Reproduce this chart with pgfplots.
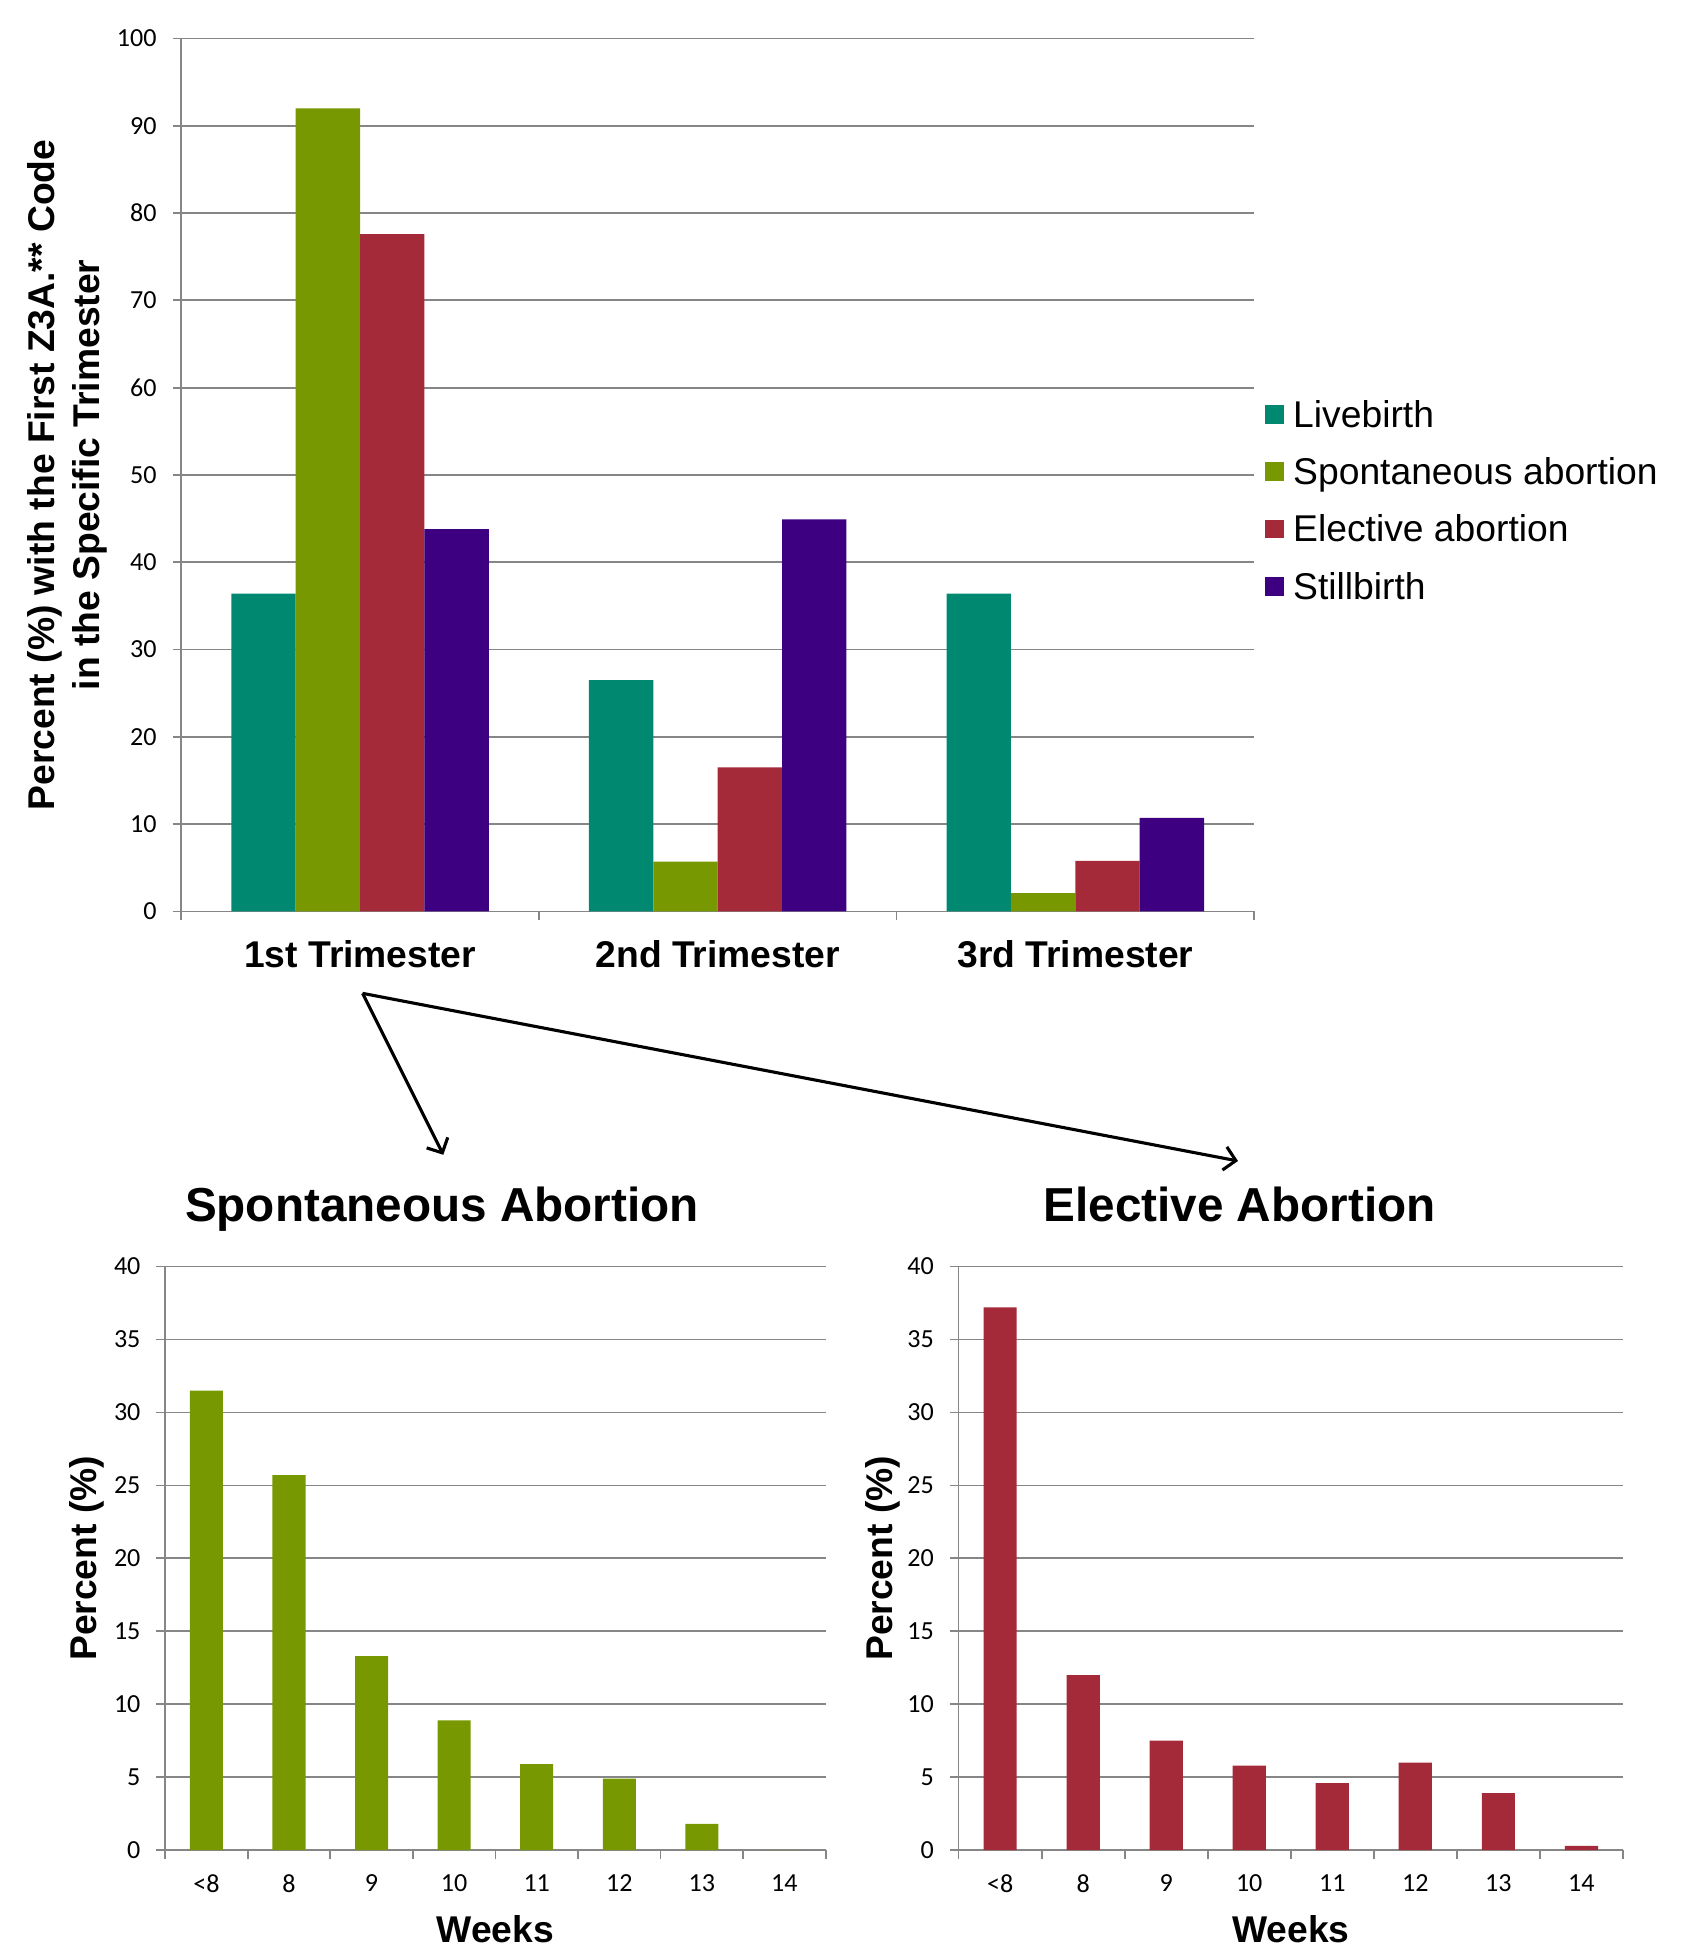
\documentclass[border=0pt]{standalone}
\usepackage{fontspec}
\setmainfont{Liberation Sans}
\newfontfamily\calibri{Carlito}
\usepackage{pgfplots}
\pgfplotsset{compat=1.18}
\usetikzlibrary{arrows.meta}
\definecolor{cLive}{RGB}{0,137,112}
\definecolor{cSpont}{RGB}{119,152,0}
\definecolor{cElect}{RGB}{164,42,57}
\definecolor{cStill}{RGB}{60,0,128}
\definecolor{cGrid}{RGB}{134,134,134}
\pgfplotsset{
  myaxis/.style={
    scale only axis,
    axis x line*=bottom, axis y line*=left,
    axis line style={-, draw=cGrid, line width=0.7pt},
    ymajorgrids, grid style={draw=cGrid, line width=0.7pt},
    tick style={draw=cGrid, line width=0.7pt},
    tick align=outside, major tick length=3.5pt,
    /pgf/number format/assume math mode=true,
    tick label style={font=\calibri\fontsize{10.5}{12}\selectfont},
    yticklabel style={inner sep=0pt},
    yticklabel shift=6.25pt,
    ymin=0,
    ylabel style={font=\bfseries\fontsize{15}{18}\selectfont, anchor=center},
    xlabel style={font=\bfseries\fontsize{15}{18}\selectfont, anchor=base},
    clip=false,
  },
  sq legend/.style={legend image code/.code={\fill[##1] (0pt,-2.4pt) rectangle (7.5pt,5.1pt);}},
}
\begin{document}
\begin{tikzpicture}
\begin{axis}[myaxis, at={(73pt,417pt)}, anchor=south west, width=432pt, height=351.5pt,
  ybar, bar width=0.18,
  xmin=-0.5, xmax=2.5, ymax=100, ytick={0,10,...,100},
  xtick={-0.5,0.5,1.5,2.5},
  xticklabels={{},{},{},{}},
  extra x ticks={0,1,2},
  extra x tick labels={1st Trimester,2nd Trimester,3rd Trimester},
  extra x tick style={major tick length=0pt, xticklabel style={font=\bfseries\fontsize{15}{18}\selectfont, inner sep=0pt}, xticklabel shift=11.5pt},
  ylabel={Percent (\%) with the First Z3A.** Code\\in the Specific Trimester},
  ylabel style={align=center, at={(axis description cs:-0.1065,0.5)}},
  legend style={at={(axis description cs:1.0104,0.467)}, anchor=west, draw=none, fill=none, inner sep=0pt, outer sep=0pt,
    font=\fontsize{15}{18}\selectfont, row sep=8.6pt, column sep=3.75pt,
    nodes={inner sep=0pt, text height=11pt, text depth=3.5pt}},
  legend cell align=left,
]
\addplot[fill=cLive, draw=none, bar shift=-0.27, sq legend] coordinates {(0,36.4) (1,26.5) (2,36.4)};
\addplot[fill=cSpont, draw=none, bar shift=-0.09, sq legend] coordinates {(0,92.0) (1,5.7) (2,2.1)};
\addplot[fill=cElect, draw=none, bar shift=0.09, sq legend] coordinates {(0,77.6) (1,16.5) (2,5.8)};
\addplot[fill=cStill, draw=none, bar shift=0.27, sq legend] coordinates {(0,43.8) (1,44.9) (2,10.7)};
\legend{Livebirth,Spontaneous abortion,Elective abortion,Stillbirth}
\end{axis}

\begin{axis}[myaxis, at={(66.5pt,39pt)}, anchor=south west, width=266pt, height=235pt,
  ybar, bar width=0.4,
  xmin=-0.5, xmax=7.5, ymax=40, ytick={0,5,...,40},
  xtick={-0.5,0.5,1.5,2.5,3.5,4.5,5.5,6.5,7.5},
  xticklabels={{},{},{},{},{},{},{},{},{}},
  extra x ticks={0,1,2,3,4,5,6,7},
  extra x tick labels={{<8},8,9,10,11,12,13,14},
  extra x tick style={major tick length=0pt, xticklabel style={inner sep=0pt}, xticklabel shift=9.5pt},
  ylabel={Percent (\%)}, ylabel style={at={(axis description cs:-0.1184,0.5)}},
  xlabel={Weeks}, xlabel style={at={(axis description cs:0.5,-0.1585)}},
  title={Spontaneous Abortion},
  title style={at={(axis description cs:0.419,1.051)}, anchor=base, font=\bfseries\fontsize{19.2}{23}\selectfont},
]
\addplot[fill=cSpont, draw=none] coordinates {(0,31.5) (1,25.7) (2,13.3) (3,8.9) (4,5.9) (5,4.9) (6,1.8) (7,0)};
\end{axis}

\begin{axis}[myaxis, at={(386pt,39pt)}, anchor=south west, width=267.5pt, height=235pt,
  ybar, bar width=0.4,
  xmin=-0.5, xmax=7.5, ymax=40, ytick={0,5,...,40},
  xtick={-0.5,0.5,1.5,2.5,3.5,4.5,5.5,6.5,7.5},
  xticklabels={{},{},{},{},{},{},{},{},{}},
  extra x ticks={0,1,2,3,4,5,6,7},
  extra x tick labels={{<8},8,9,10,11,12,13,14},
  extra x tick style={major tick length=0pt, xticklabel style={inner sep=0pt}, xticklabel shift=9.5pt},
  ylabel={Percent (\%)}, ylabel style={at={(axis description cs:-0.114,0.5)}},
  xlabel={Weeks}, xlabel style={at={(axis description cs:0.5,-0.1585)}},
  title={Elective Abortion},
  title style={at={(axis description cs:0.423,1.051)}, anchor=base, font=\bfseries\fontsize{19.2}{23}\selectfont},
]
\addplot[fill=cElect, draw=none] coordinates {(0,37.2) (1,12.0) (2,7.5) (3,5.8) (4,4.6) (5,6.0) (6,3.9) (7,0.3)};
\end{axis}

\draw[line width=1.25pt, -{Straight Barb[length=4.6pt,width=9.5pt]}] (146pt,384pt) -- (178.5pt,319pt);
\draw[line width=1.25pt, -{Straight Barb[length=4.6pt,width=9.5pt]}] (146pt,384pt) -- (498.5pt,316.5pt);

\pgfresetboundingbox
\path[use as bounding box] (0pt,0pt) rectangle (679pt,784pt);
\end{tikzpicture}
\end{document}
